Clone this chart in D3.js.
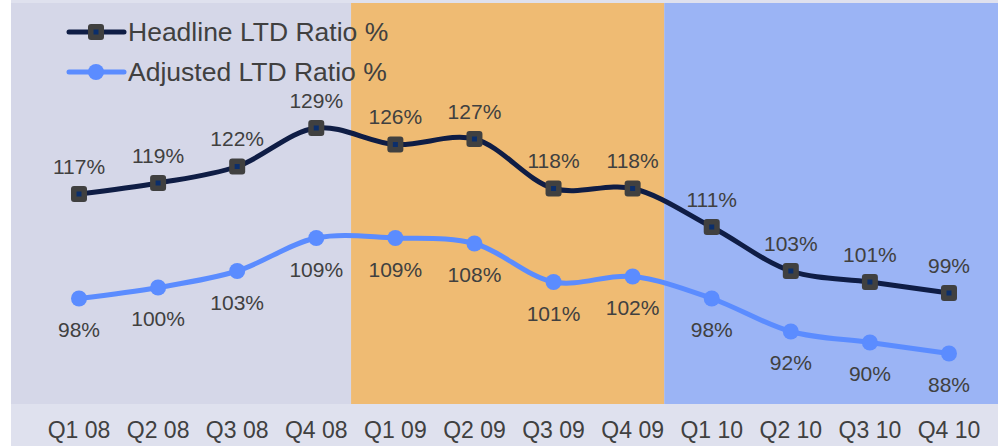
<!DOCTYPE html>
<html>
<head>
<meta charset="utf-8">
<script src="https://cdn.jsdelivr.net/npm/d3@7/dist/d3.min.js"></script>
<style>
  html, body { margin: 0; padding: 0; background: #ffffff; }
  svg { display: block; font-family: "Liberation Sans", Arial, sans-serif; }
</style>
</head>
<body>
<svg id="chart" width="998" height="446"></svg>
<script>
// Quarterly loan-to-deposit ratios
const quarters = ["Q1 08", "Q2 08", "Q3 08", "Q4 08", "Q1 09", "Q2 09", "Q3 09", "Q4 09", "Q1 10", "Q2 10", "Q3 10", "Q4 10"];
const headline = [117, 119, 122, 129, 126, 127, 118, 118, 111, 103, 101, 99];
const adjusted = [98, 100, 103, 109, 109, 108, 101, 102, 98, 92, 90, 88];
const seriesNames = ["Headline LTD Ratio %", "Adjusted LTD Ratio %"];

// Year shading, expressed in quarter-index units
const years = ["2008", "2009", "2010"];
const yearSpans = [[-0.86, 3.44], [3.44, 7.40], [7.40, 11.62]];
const yearColors = ["#d5d7e8", "#efbb73", "#9bb4f5"];

const W = 998, H = 446;
const plotTop = 3, plotBottom = 404, plotLeft = 11;

const svg = d3.select("#chart");

// index -> pixel
const xi = d3.scaleLinear().domain([0, 11]).range([79, 949]);
const y = d3.scaleLinear().domain([99, 117]).range([293, 194]);

// axis strip and top strip
svg.append("rect").attr("x", plotLeft).attr("y", 0).attr("width", W - plotLeft).attr("height", H)
  .attr("fill", "#dfe1ee");

svg.append("g").selectAll("rect").data(years).join("rect")
  .attr("x", (d, i) => xi(yearSpans[i][0]))
  .attr("width", (d, i) => xi(yearSpans[i][1]) - xi(yearSpans[i][0]))
  .attr("y", plotTop)
  .attr("height", plotBottom - plotTop)
  .attr("fill", (d, i) => yearColors[i]);

// x axis labels via band scale aligned to the quarter centres
const step = xi(1) - xi(0);
const xb = d3.scaleBand().domain(quarters)
  .range([xi(0) - step / 2, xi(11) + step / 2]).padding(0);
const xAxis = svg.append("g").attr("transform", `translate(0,${plotBottom})`)
  .call(d3.axisBottom(xb).tickSize(0).tickPadding(18));
xAxis.select(".domain").remove();
xAxis.selectAll("text")
  .attr("font-size", 23)
  .attr("fill", "#404040")
  .attr("font-family", "Liberation Sans, Arial, sans-serif");

const line = d3.line()
  .x((d, i) => xi(i))
  .y(d => y(d))
  .curve(d3.curveCatmullRom.alpha(0.5));

const navy = "#0f1d45";
const light = "#5b8cff";

// Adjusted series
svg.append("path").datum(adjusted).attr("d", line)
  .attr("fill", "none").attr("stroke", light).attr("stroke-width", 5);
svg.append("g").selectAll("circle").data(adjusted).join("circle")
  .attr("cx", (d, i) => xi(i)).attr("cy", d => y(d)).attr("r", 8)
  .attr("fill", light);

// Headline series
svg.append("path").datum(headline).attr("d", line)
  .attr("fill", "none").attr("stroke", navy).attr("stroke-width", 5);

function squareMarker(g, cx, cy) {
  g.append("rect").attr("x", cx - 8).attr("y", cy - 8).attr("width", 16).attr("height", 16)
    .attr("rx", 3).attr("fill", "#404040");
  g.append("rect").attr("x", cx - 2.5).attr("y", cy - 2.5).attr("width", 5).attr("height", 5)
    .attr("fill", "#0b2e6b");
}
const hm = svg.append("g");
headline.forEach((d, i) => squareMarker(hm, xi(i), y(d)));

// Value labels
svg.append("g").selectAll("text").data(headline).join("text")
  .attr("x", (d, i) => xi(i)).attr("y", d => y(d) - 28)
  .attr("text-anchor", "middle").attr("dominant-baseline", "central")
  .attr("font-size", 21).attr("fill", "#404040")
  .text(d => d + "%");
svg.append("g").selectAll("text").data(adjusted).join("text")
  .attr("x", (d, i) => xi(i)).attr("y", d => y(d) + 31)
  .attr("text-anchor", "middle").attr("dominant-baseline", "central")
  .attr("font-size", 21).attr("fill", "#404040")
  .text(d => d + "%");

// Legend
const leg = svg.append("g");
const legRows = [32, 72];
leg.append("line").attr("x1", 69).attr("x2", 124).attr("y1", legRows[0]).attr("y2", legRows[0])
  .attr("stroke", navy).attr("stroke-width", 5).attr("stroke-linecap", "round");
squareMarker(leg, 96, legRows[0]);
leg.append("line").attr("x1", 69).attr("x2", 124).attr("y1", legRows[1]).attr("y2", legRows[1])
  .attr("stroke", light).attr("stroke-width", 5).attr("stroke-linecap", "round");
leg.append("circle").attr("cx", 96).attr("cy", legRows[1]).attr("r", 8).attr("fill", light);
leg.selectAll("text").data(seriesNames).join("text")
  .attr("x", 128).attr("y", (d, i) => legRows[i])
  .attr("dominant-baseline", "central")
  .attr("font-size", 26.5).attr("fill", "#404040")
  .text(d => d);
</script>
</body>
</html>
